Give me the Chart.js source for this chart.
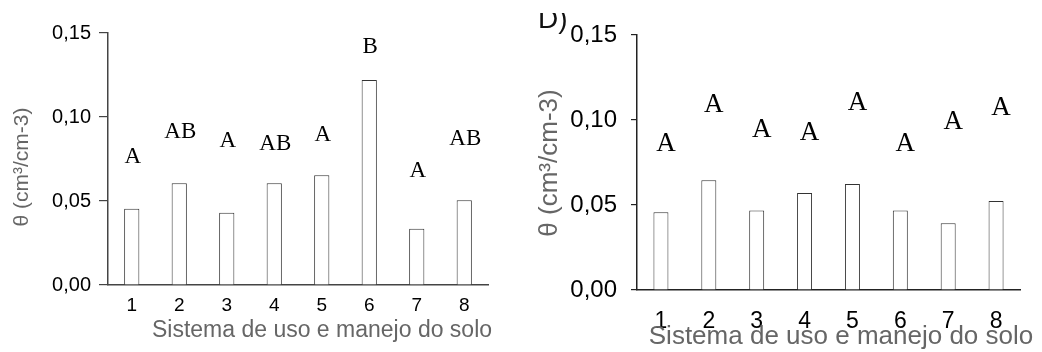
<!DOCTYPE html>
<html>
<head>
<meta charset="utf-8">
<script src="https://cdn.jsdelivr.net/npm/chart.js@4.4.1/dist/chart.umd.min.js"></script>
<style>
  html, body { margin: 0; padding: 0; background: #fff; }
  #wrap { position: relative; width: 1042px; height: 352px; overflow: hidden; background: #fff; }
  #left { position: absolute; left: 0; top: 0; }
  #right { position: absolute; left: 520px; top: 0; }
</style>
</head>
<body>
<div id="wrap">
  <canvas id="left" width="520" height="352"></canvas>
  <canvas id="right" width="522" height="352"></canvas>
</div>
<script>
// ---- data ----
const categories = ['1', '2', '3', '4', '5', '6', '7', '8'];
const leftValues = [0.0454, 0.0605, 0.0430, 0.0605, 0.0653, 0.1220, 0.0335, 0.0504];
const leftLetters = ['A', 'AB', 'A', 'AB', 'A', 'B', 'A', 'AB'];
const leftLetterPos = [0.0762, 0.0911, 0.0857, 0.0839, 0.0893, 0.1417, 0.0679, 0.0869];
const rightValues = [0.0457, 0.0645, 0.0467, 0.0571, 0.0624, 0.0467, 0.0392, 0.0524];
const rightLetters = ['A', 'A', 'A', 'A', 'A', 'A', 'A', 'A'];
const rightLetterPos = [0.0857, 0.1088, 0.0941, 0.0925, 0.1102, 0.0859, 0.0990, 0.1069];
const yTickValues = [0, 0.05, 0.10, 0.15];
const yTitle = 'θ (cm³/cm-3)';
const xTitle = 'Sistema de uso e manejo do solo';
const panelLabel = 'D)';

const fmt = v => Number(v).toFixed(2).replace('.', ',');

const textPlugin = {
  id: 'panelText',
  afterDraw(chart, args, o) {
    const ctx = chart.ctx;
    const xs = chart.scales.x, ys = chart.scales.y;
    ctx.save();
    // significance letters
    ctx.fillStyle = '#000';
    ctx.font = o.letterFont;
    ctx.textAlign = 'center';
    ctx.textBaseline = 'middle';
    o.letters.forEach((t, i) => {
      ctx.fillText(t, xs.getPixelForValue(i) + o.letterDx, ys.getPixelForValue(o.letterPos[i]));
    });
    // x title
    ctx.fillStyle = '#666';
    ctx.font = o.xTitleFont;
    ctx.fillText(o.xTitle, o.xTitleX, o.xTitleY);
    // y title
    ctx.save();
    ctx.translate(o.yTitleX, o.yTitleY);
    ctx.rotate(-Math.PI / 2);
    ctx.font = o.yTitleFont;
    ctx.fillText(o.yTitle, 0, 0);
    ctx.restore();
    // panel label (top clipped as in source)
    if (o.panel) {
      ctx.save();
      ctx.beginPath();
      ctx.rect(0, o.panel.clipTop, chart.width, chart.height);
      ctx.clip();
      ctx.fillStyle = '#111';
      ctx.font = o.panel.font;
      ctx.textAlign = 'left';
      ctx.textBaseline = 'alphabetic';
      ctx.fillText(o.panel.text, o.panel.x, o.panel.y);
      ctx.restore();
    }
    ctx.restore();
  }
};

function makeChart(id, values, cfg) {
  return new Chart(document.getElementById(id), {
    type: 'bar',
    data: {
      labels: categories,
      datasets: [{
        data: values,
        backgroundColor: '#ffffff',
        borderColor: '#333333',
        borderWidth: 1,
        barPercentage: cfg.barPct,
        categoryPercentage: 1.0
      }]
    },
    options: {
      responsive: false,
      animation: false,
      events: [],
      layout: { padding: cfg.padding },
      plugins: {
        legend: { display: false },
        tooltip: { enabled: false },
        panelText: cfg.text
      },
      scales: {
        x: {
          offset: true,
          afterFit: s => { s.height = cfg.xHeight; },
          grid: { display: true, drawOnChartArea: false, drawTicks: false },
          border: { display: true, color: cfg.axisColor, width: 1.5 },
          ticks: { color: '#000', font: { family: 'Liberation Sans', size: cfg.xTickSize }, padding: cfg.xTickPad, maxRotation: 0 }
        },
        y: {
          min: 0, max: 0.15,
          afterFit: s => { s.width = cfg.yWidth; },
          afterBuildTicks: s => { s.ticks = yTickValues.map(v => ({ value: v })); },
          grid: { drawOnChartArea: false, drawTicks: true, tickLength: cfg.tickLen, color: cfg.axisColor, lineWidth: 1.2 },
          border: { display: true, color: cfg.axisColor, width: 1.5 },
          ticks: { color: '#000', font: { family: 'Liberation Sans', size: cfg.yTickSize }, padding: cfg.yTickPad, callback: v => fmt(v) }
        }
      }
    },
    plugins: [textPlugin]
  });
}

makeChart('left', leftValues, {
  barPct: 0.32,
  padding: { left: 0, top: 33, right: 32, bottom: 0 },
  xHeight: 67, yWidth: 108,
  axisColor: '#444', tickLen: 9,
  xTickSize: 19, xTickPad: 9, yTickSize: 20, yTickPad: 8,
  text: {
    letters: leftLetters, letterPos: leftLetterPos, letterDx: 1,
    letterFont: '23px "Liberation Serif"',
    xTitle: xTitle, xTitleFont: '23px "Liberation Sans"', xTitleX: 322, xTitleY: 331,
    yTitle: yTitle, yTitleFont: '21px "Liberation Sans"', yTitleX: 22, yTitleY: 167
  }
});

makeChart('right', rightValues, {
  barPct: 0.313,
  padding: { left: 0, top: 35, right: 22, bottom: 0 },
  xHeight: 62, yWidth: 117,
  axisColor: '#222', tickLen: 6,
  xTickSize: 23, xTickPad: 18, yTickSize: 24, yTickPad: 14,
  text: {
    letters: rightLetters, letterPos: rightLetterPos, letterDx: 5,
    letterFont: '27px "Liberation Serif"',
    xTitle: xTitle, xTitleFont: '26px "Liberation Sans"', xTitleX: 321, xTitleY: 337,
    yTitle: yTitle, yTitleFont: '26px "Liberation Sans"', yTitleX: 30, yTitleY: 163,
    panel: { text: panelLabel, font: '28px "Liberation Sans"', x: 18, y: 28, clipTop: 13 }
  }
});
</script>
</body>
</html>
